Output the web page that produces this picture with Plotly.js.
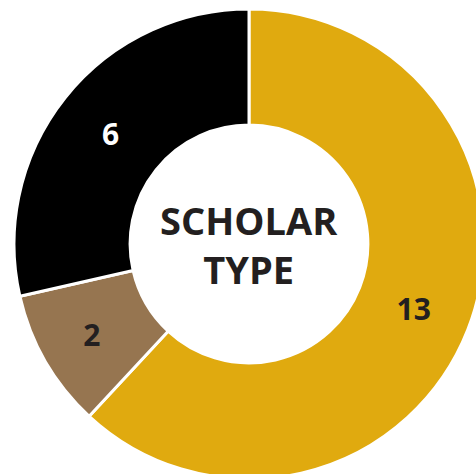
<!DOCTYPE html>
<html>
<head>
<meta charset="utf-8">
<script src="https://cdn.plot.ly/plotly-3.0.1.min.js"></script>
<style>
html,body{margin:0;padding:0;width:476px;height:474px;overflow:hidden;background:#fff;}
#chart{position:absolute;left:14px;top:9px;width:470px;height:470px;}
</style>
</head>
<body>
<div id="chart"></div>
<script>
const categories = ["Type A", "Type B", "Type C"];
const values = [13, 2, 6];
const colors = ["#E0AA0F", "#967550", "#000000"];
const labelColors = ["#231F20", "#231F20", "#FFFFFF"];
const centerTitle = "SCHOLAR<br>TYPE";

const trace = {
  type: "pie",
  labels: categories,
  values: values,
  hole: 0.506,
  sort: false,
  direction: "clockwise",
  rotation: 0,
  marker: {colors: colors, line: {color: "#FFFFFF", width: 3}},
  textinfo: "value",
  textposition: "inside",
  insidetextorientation: "horizontal",
  textfont: {family: "Open Sans, sans-serif", size: 30, color: labelColors, weight: 700},
  hoverinfo: "none",
  showlegend: false
};

const layout = {
  width: 470,
  height: 470,
  margin: {l: 0, r: 0, t: 0, b: 0},
  paper_bgcolor: "#FFFFFF",
  showlegend: false,
  annotations: [{
    text: centerTitle,
    x: 0.5, y: 0.5, xref: "paper", yref: "paper",
    showarrow: false,
    font: {family: "Open Sans, sans-serif", size: 38, color: "#231F20", weight: 700},
    align: "center"
  }]
};

Plotly.newPlot("chart", [trace], layout, {staticPlot: true, displayModeBar: false});
</script>
</body>
</html>
